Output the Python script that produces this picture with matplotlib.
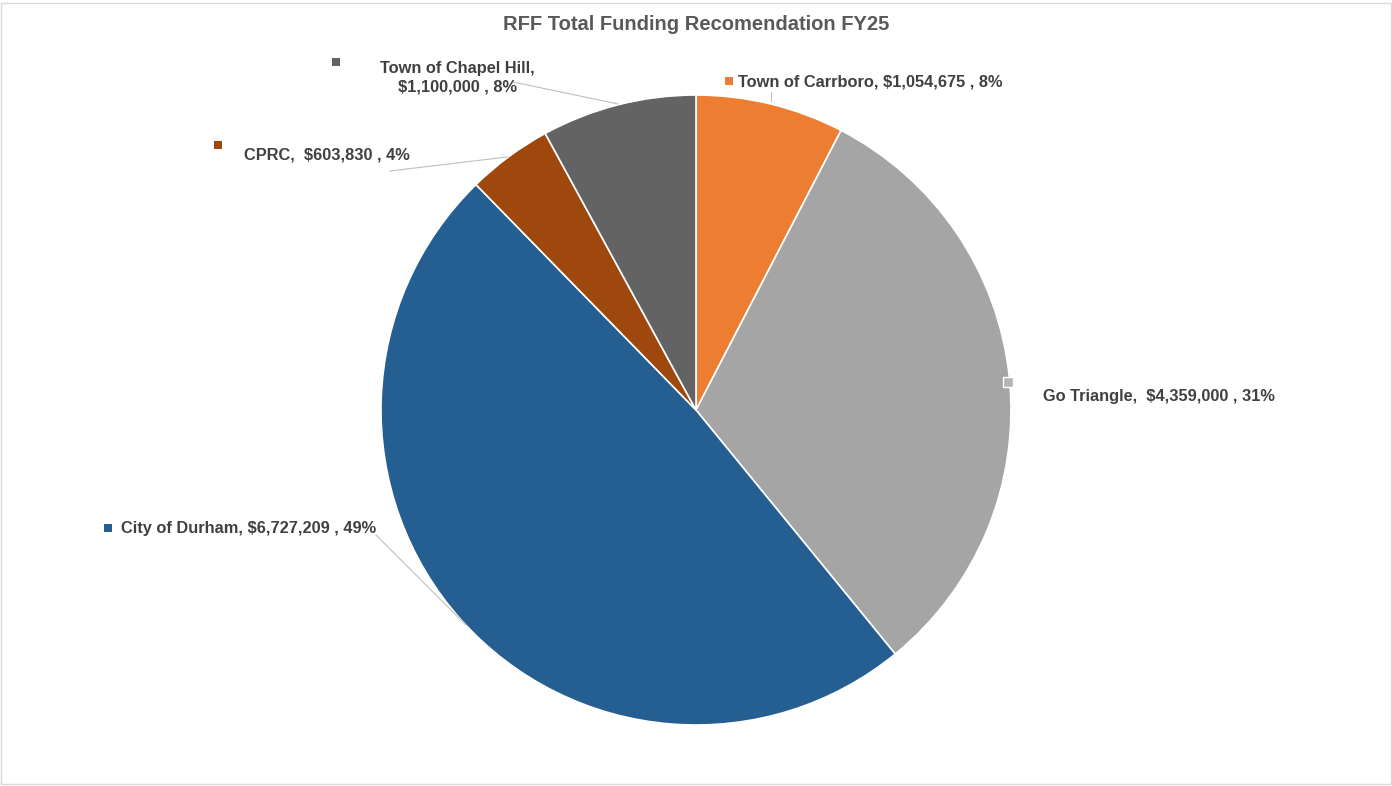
import matplotlib.pyplot as plt
from matplotlib.patches import Rectangle

plt.rcParams['font.family'] = ['Liberation Sans', 'DejaVu Sans']

# data, clockwise from 12 o'clock
names = ['Town of Carrboro', 'Go Triangle', 'City of Durham', 'CPRC', 'Town of Chapel Hill']
amounts = [1054675, 4359000, 6727209, 603830, 1100000]
pct_text = ['8%', '31%', '49%', '4%', '8%']
colors = ['#ED7D31', '#A5A5A5', '#255E91', '#9E480E', '#636363']

W, H = 1392, 786
fig = plt.figure(figsize=(W / 100, H / 100), dpi=100)
ax = fig.add_axes([0, 0, 1, 1])
ax.set_xlim(0, W)
ax.set_ylim(H, 0)
ax.axis('off')

# pie is drawn in a y-up axes so it runs clockwise like the original
pax = fig.add_axes([0, 0, 1, 1])
pax.pie(amounts, colors=colors, startangle=90, counterclock=False,
        center=(696, H - 410), radius=315, frame=True,
        wedgeprops=dict(edgecolor='white', linewidth=1.2))
pax.set_xlim(0, W)
pax.set_ylim(0, H)
pax.axis('off')

# labels go on top of the pie
ax.set_zorder(2)
ax.patch.set_visible(False)

fig.add_artist(Rectangle((0.5 / W, 2.5 / H), 1 - 1.5 / W, 1 - 5 / H,
                         transform=fig.transFigure, fill=False,
                         edgecolor='#D9D9D9', linewidth=1))

fig.text(0.5, 1 - 25 / H, 'RFF Total Funding Recomendation FY25', ha='center', va='center',
         fontsize=14.5, fontweight='bold', color='#595959')

txt = dict(fontsize=11.8, fontweight='bold', color='#404040')
lines = dict(color='#BFBFBF', linewidth=0.8)
key = dict(marker='s', ms=5.4, ls='none', mew=0)


def money(v):
    return '${:,}'.format(v)


# Town of Carrboro
ax.plot([771, 771], [92, 101], **lines)
ax.plot(729, 81, color=colors[0], **key)
ax.text(738, 82, f'{names[0]}, {money(amounts[0])} , {pct_text[0]}', va='center', **txt)

# Go Triangle (key sits on the pie edge, so it gets a white rim)
ax.plot(1008, 382, color='#B5B5B5', **dict(key, ms=6.5, mec='white', mew=1.0))
ax.text(1043, 397, f'{names[1]},  {money(amounts[1])} , {pct_text[1]}', va='center', **txt)

# City of Durham
ax.plot([376, 466], [535, 625], **lines)
ax.plot(108, 528, color=colors[2], **key)
ax.text(121, 528, f'{names[2]}, {money(amounts[2])} , {pct_text[2]}', va='center', **txt)

# CPRC
ax.plot([390, 507], [171, 157], **lines)
ax.plot(218, 145, color=colors[3], **key)
ax.text(244, 155, f'{names[3]},  {money(amounts[3])} , {pct_text[3]}', va='center', **txt)

# Town of Chapel Hill
ax.plot([513, 618], [82, 104], **lines)
ax.plot(336, 62, color=colors[4], **key)
ax.text(457, 78, f'{names[4]},\n{money(amounts[4])} , {pct_text[4]}', ha='center', va='center',
        linespacing=1.25, **txt)

fig.savefig('out.png', dpi=100)
